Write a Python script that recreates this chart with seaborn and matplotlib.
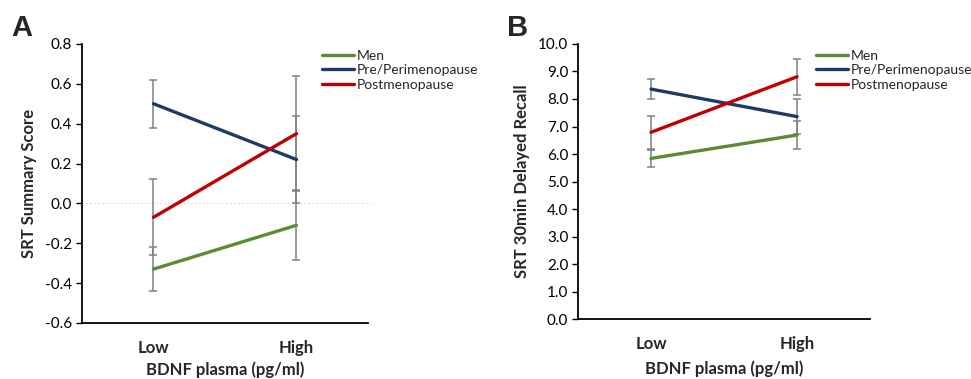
import numpy as np
import pandas as pd
import seaborn as sns
import matplotlib.pyplot as plt

sns.set_theme(style="white")
plt.rcParams["font.family"] = ["Lato", "DejaVu Sans"]
plt.rcParams["axes.unicode_minus"] = False

# Datos
levels = ["Low", "High"]
groups = ["Men", "Pre/Perimenopause", "Postmenopause"]
colors = ["#5B8C35", "#1F3A66", "#C00000"]

# Panel A: SRT Summary Score (media, error)
a_mean = {
    "Men": [-0.33, -0.11],
    "Pre/Perimenopause": [0.50, 0.22],
    "Postmenopause": [-0.07, 0.35],
}
a_err = {
    "Men": [0.11, 0.175],
    "Pre/Perimenopause": [0.12, 0.22],
    "Postmenopause": [0.19, 0.29],
}

# Panel B: SRT 30min Delayed Recall (media, error)
b_mean = {
    "Men": [5.84, 6.69],
    "Pre/Perimenopause": [8.36, 7.36],
    "Postmenopause": [6.79, 8.81],
}
b_err = {
    "Men": [0.32, 0.52],
    "Pre/Perimenopause": [0.37, 0.63],
    "Postmenopause": [0.61, 0.66],
}


def to_frame(means):
    rows = []
    for g in groups:
        for lvl, v in zip(levels, means[g]):
            rows.append({"level": lvl, "group": g, "value": v})
    return pd.DataFrame(rows)


def draw_panel(ax, means, errs, ylabel, ylim, step, leg_x, xpad, zero_line=False):
    df = to_frame(means)
    x = np.arange(len(levels))
    for g in groups:
        ax.errorbar(x, means[g], yerr=errs[g], fmt="none", ecolor="#808080",
                    elinewidth=1.1, capsize=3, capthick=1.1, zorder=1)
    sns.lineplot(data=df, x="level", y="value", hue="group", hue_order=groups,
                 palette=colors, linewidth=2.4, ax=ax, zorder=3, sort=False)
    if zero_line:
        ax.axhline(0, color="#d9d9d9", lw=0.8, ls=(0, (1.5, 2)), zorder=0,
                   xmin=0, xmax=1.01, clip_on=False)
    ax.set_xlim(-0.5, 1.5)
    ax.set_ylim(*ylim)
    ax.set_yticks(np.arange(ylim[0], ylim[1] + step / 2, step))
    ax.yaxis.set_major_formatter(plt.FormatStrFormatter("%.1f"))
    ax.set_xticks(x)
    ax.set_xticklabels(levels, fontweight="bold", fontsize=12)
    ax.tick_params(axis="x", length=0, pad=12)
    ax.tick_params(axis="y", length=4, width=1, direction="out", left=True,
                   labelsize=11, pad=3, colors="black")
    for side in ["top", "right"]:
        ax.spines[side].set_visible(False)
    for side in ["left", "bottom"]:
        ax.spines[side].set_color("black")
        ax.spines[side].set_linewidth(1.3)
    ax.set_ylabel(ylabel, fontweight="bold", fontsize=12, labelpad=6)
    ax.set_xlabel("BDNF plasma (pg/ml)", fontweight="bold", fontsize=12, labelpad=xpad)
    handles, labels = ax.get_legend_handles_labels()
    ax.legend(handles, labels, loc="upper left", bbox_to_anchor=(leg_x, 1.0),
              frameon=False, fontsize=10, handlelength=2.3, handletextpad=0.2,
              labelspacing=0.2, borderaxespad=0)
    for line in ax.get_legend().get_lines():
        line.set_linewidth(2.4)


fig = plt.figure(figsize=(9.71, 3.79), dpi=100)
ax_a = fig.add_axes([0.0844, 0.148, 0.2946, 0.736])
ax_b = fig.add_axes([0.5953, 0.158, 0.3007, 0.726])

draw_panel(ax_a, a_mean, a_err, "SRT Summary Score", (-0.6, 0.8), 0.2, 0.82, 4.5, zero_line=True)
draw_panel(ax_b, b_mean, b_err, "SRT 30min Delayed Recall", (0.0, 10.0), 1.0, 0.795, 6.5)

fig.text(0.012, 0.905, "A", fontsize=21, fontweight="bold", family="Liberation Sans")
fig.text(0.522, 0.905, "B", fontsize=21, fontweight="bold", family="Liberation Sans")

fig.savefig("out.png", dpi=100)
